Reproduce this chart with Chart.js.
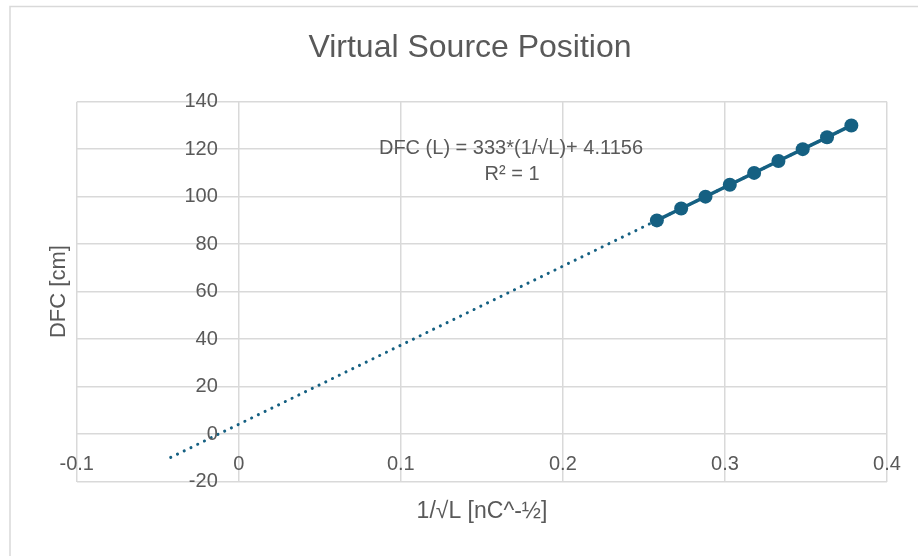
<!DOCTYPE html>
<html>
<head>
<meta charset="utf-8">
<script src="https://cdn.jsdelivr.net/npm/chart.js@4/dist/chart.umd.min.js"></script>
<style>
  html, body { margin: 0; padding: 0; background: #ffffff; }
  #wrap { width: 918px; height: 556px; position: relative; }
</style>
</head>
<body>
<div id="wrap"><canvas id="c" width="918" height="556"></canvas></div>
<script>
// Chart texts
const chartTitle = 'Virtual Source Position';
const xTitle = '1/\u221AL [nC^-\u00BD]';
const yTitle = 'DFC [cm]';
const equationLines = ['DFC (L) = 333*(1/\u221AL)+ 4.1156', 'R\u00B2 = 1'];

// Measured points: inverse square root of L vs. DFC
const invSqrtL = [0.258, 0.273, 0.288, 0.303, 0.318, 0.333, 0.348, 0.363, 0.378];
const dfc = [90, 95, 100, 105, 110, 115, 120, 125, 130];

// Linear trendline end points (backward forecast to the left)
const trendX = [-0.042, 0.378];
const trendY = [-9.87, 130.0];

// Axis ticks
const xTicks = [-0.1, 0, 0.1, 0.2, 0.3, 0.4];
const xTickLabels = ['-0.1', '0', '0.1', '0.2', '0.3', '0.4'];
const yTicks = [-20, 0, 20, 40, 60, 80, 100, 120, 140];
const yTickLabels = ['-20', '0', '20', '40', '60', '80', '100', '120', '140'];

const SERIES_COLOR = '#156082';
const TEXT_COLOR = '#595959';
const GRID_COLOR = '#d9d9d9';
const FONT = '"Liberation Sans", Arial, sans-serif';

const points = invSqrtL.map((x, i) => ({ x, y: dfc[i] }));
const trend = trendX.map((x, i) => ({ x, y: trendY[i] }));

// Background, outer frame and all text placed relative to the scales
const decorations = {
  id: 'decorations',
  beforeDraw(chart) {
    const ctx = chart.ctx;
    ctx.save();
    ctx.fillStyle = '#ffffff';
    ctx.fillRect(0, 0, chart.width, chart.height);
    ctx.strokeStyle = GRID_COLOR;
    ctx.lineWidth = 1.5;
    ctx.strokeRect(10, 6.5, 2000, 2000);
    ctx.restore();
  },
  afterDraw(chart) {
    const ctx = chart.ctx;
    const xs = chart.scales.x;
    const ys = chart.scales.y;
    const area = chart.chartArea;
    const x0 = xs.getPixelForValue(0);
    const y0 = ys.getPixelForValue(0);
    ctx.save();
    ctx.fillStyle = TEXT_COLOR;

    // tick labels next to the axes crossing at the origin
    ctx.font = '20px ' + FONT;
    ctx.textAlign = 'right';
    ctx.textBaseline = 'middle';
    yTicks.forEach((v, i) => {
      ctx.fillText(yTickLabels[i], x0 - 21, ys.getPixelForValue(v));
    });
    ctx.textAlign = 'center';
    xTicks.forEach((v, i) => {
      ctx.fillText(xTickLabels[i], xs.getPixelForValue(v), y0 + 30);
    });

    // trendline equation
    ctx.font = '20px ' + FONT;
    ctx.fillText(equationLines[0], 511, 148);
    ctx.fillText(equationLines[1], 512, 174);

    // title
    ctx.font = '32px ' + FONT;
    ctx.fillText(chartTitle, 470, 48);

    // axis titles
    ctx.font = '23px ' + FONT;
    ctx.fillText(xTitle, 482, 512);
    ctx.font = '22px ' + FONT;
    ctx.translate(59, (area.top + area.bottom) / 2);
    ctx.rotate(-Math.PI / 2);
    ctx.fillText(yTitle, 0, 0);
    ctx.restore();
  }
};

new Chart(document.getElementById('c'), {
  type: 'scatter',
  data: {
    datasets: [
      {
        label: 'DFC',
        data: points,
        showLine: true,
        borderColor: SERIES_COLOR,
        backgroundColor: SERIES_COLOR,
        borderWidth: 3.5,
        pointRadius: 7,
        pointBorderWidth: 0,
        pointBackgroundColor: SERIES_COLOR
      },
      {
        label: 'Linear (DFC)',
        data: trend,
        showLine: true,
        borderColor: SERIES_COLOR,
        borderWidth: 3,
        borderDash: [0.1, 7.4],
        borderCapStyle: 'round',
        pointRadius: 0
      }
    ]
  },
  options: {
    responsive: false,
    animation: false,
    events: [],
    layout: { padding: { left: 76.7, right: 31, top: 101.7, bottom: 74.5 } },
    plugins: {
      legend: { display: false },
      tooltip: { enabled: false },
      title: { display: false }
    },
    scales: {
      x: {
        type: 'linear',
        min: -0.1,
        max: 0.4,
        ticks: { display: false, stepSize: 0.1 },
        grid: { color: GRID_COLOR, lineWidth: 1.5, drawTicks: false },
        border: { display: false }
      },
      y: {
        type: 'linear',
        min: -20,
        max: 140,
        ticks: { display: false, stepSize: 20 },
        grid: { color: GRID_COLOR, lineWidth: 1.5, drawTicks: false },
        border: { display: false }
      }
    }
  },
  plugins: [decorations]
});
</script>
</body>
</html>
